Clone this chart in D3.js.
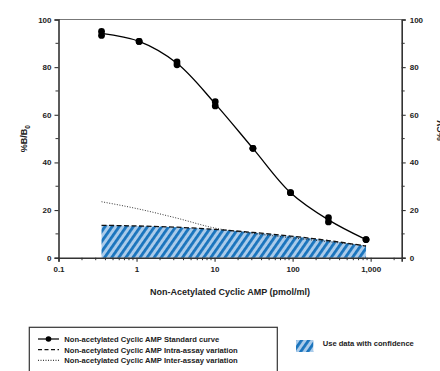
<!DOCTYPE html>
<html><head><meta charset="utf-8">
<script src="https://cdn.jsdelivr.net/npm/d3@7"></script>
<style>
html,body{margin:0;padding:0;background:#fff;}
svg{display:block;font-family:"Liberation Sans",Arial,sans-serif;}
</style></head>
<body>
<svg id="c" width="440" height="371"></svg>
<script>
// ---- data ----
const conc = [0.356, 1.08, 3.3, 10.2, 31, 94, 288, 873];
const rep1 = [95.0, 90.8, 82.2, 65.5, 45.9, 27.3, 16.8, 7.6];
const rep2 = [93.3, 90.8, 81.0, 63.7, 45.9, 27.3, 15.0, 7.6];
const intraCV = [13.6, 13.3, 12.8, 11.9, 10.6, 9.1, 7.2, 4.9];
const interCV = [23.5, 20.4, 16.6, 12.4, 10.2, 8.4, 6.7, 5.0];
const xTickVals = [0.1, 1, 10, 100, 1000];
const xTickLabels = ["0.1", "1", "10", "100", "1,000"];
const yTickVals = [0, 20, 40, 60, 80, 100];
const legendLines = ["Non-acetylated Cyclic AMP Standard curve",
  "Non-acetylated Cyclic AMP Intra-assay variation",
  "Non-acetylated Cyclic AMP Inter-assay variation"];
const legendArea = "Use data with confidence";

const svg = d3.select("#c");
const L = 58.5, R = 401.7, T = 19.5, B = 257.7;
const x = d3.scaleLog().domain([0.1, 2500]).range([L, R]);
const y = d3.scaleLinear().domain([0, 100]).range([B, T]);
const y2 = d3.scaleLinear().domain([0, 100]).range([B, T]);

// pattern
const defs = svg.append("defs");
const pat = defs.append("pattern").attr("id", "hatch").attr("patternUnits", "userSpaceOnUse")
  .attr("width", 5.8).attr("height", 10).attr("patternTransform", "rotate(35)");
pat.append("rect").attr("width", 5.8).attr("height", 10).attr("fill", "#aacbea");
pat.append("rect").attr("width", 2.8).attr("height", 10).attr("fill", "#1a74bd");

const mean = conc.map((c, i) => ({c, v: (rep1[i] + rep2[i]) / 2}));

// hatched confidence area
const area = d3.area().x(d => x(d.c)).y0(y2(0)).y1(d => y2(d.v)).curve(d3.curveMonotoneX);
svg.append("path").datum(conc.map((c, i) => ({c, v: intraCV[i]})))
  .attr("d", area).attr("fill", "url(#hatch)");

// top frame line
svg.append("line").attr("x1", L).attr("x2", R).attr("y1", T).attr("y2", T)
  .attr("stroke", "#777").attr("stroke-width", 1.2);

// axes
const tickFont = g => g.selectAll("text").attr("font-size", 8).attr("font-weight", "bold")
  .attr("fill", "#222").attr("font-family", "Liberation Sans, Arial, sans-serif");

const yAxis = d3.axisLeft(y).tickValues(yTickVals).tickSize(4).tickPadding(3).tickFormat(d3.format("d"));
const gy = svg.append("g").attr("transform", `translate(${L},0)`).call(yAxis);
gy.call(tickFont);
gy.append("g").selectAll("line").data([10, 30, 50, 70, 90]).join("line")
  .attr("x1", -3).attr("x2", 0).attr("y1", d => y(d)).attr("y2", d => y(d)).attr("stroke", "#333");

const yAxisR = d3.axisRight(y2).tickValues(yTickVals).tickSize(4).tickPadding(4).tickFormat(d3.format("d"));
const gy2 = svg.append("g").attr("transform", `translate(${R},0)`).call(yAxisR);
gy2.call(tickFont);
gy2.append("g").selectAll("line").data([10, 30, 50, 70, 90]).join("line")
  .attr("x1", 0).attr("x2", 3).attr("y1", d => y2(d)).attr("y2", d => y2(d)).attr("stroke", "#333");

const xAxis = d3.axisBottom(x).tickValues(xTickVals).tickSize(4).tickPadding(5)
  .tickFormat((d, i) => xTickLabels[i]);
const gx = svg.append("g").attr("transform", `translate(0,${B})`).call(xAxis);
gx.call(tickFont);
const minor = [];
[0.1, 1, 10, 100, 1000].forEach(dec => { for (let k = 2; k <= 9; k++) { const v = dec * k; if (v <= 2500) minor.push(v); } });
gx.append("g").selectAll("line").data(minor).join("line")
  .attr("x1", d => x(d)).attr("x2", d => x(d)).attr("y1", 0).attr("y2", 2.5).attr("stroke", "#333");

[gx, gy, gy2].forEach(g => {
  g.select(".domain").attr("stroke", "#333").attr("stroke-width", 1.6);
  g.selectAll(".tick line").attr("stroke", "#333").attr("stroke-width", 1.1);
});

// lines
const line = d3.line().x(d => x(d.c)).y(d => y(d.v)).curve(d3.curveMonotoneX);
svg.append("path").datum(conc.map((c, i) => ({c, v: interCV[i]})))
  .attr("d", line).attr("fill", "none").attr("stroke", "#333").attr("stroke-width", 1)
  .attr("stroke-dasharray", "1,1.6");
svg.append("path").datum(conc.map((c, i) => ({c, v: intraCV[i]})))
  .attr("d", line).attr("fill", "none").attr("stroke", "#111").attr("stroke-width", 1.3)
  .attr("stroke-dasharray", "5,2.5");
svg.append("path").datum(mean).attr("d", d3.line().x(d => x(d.c)).y(d => y(d.v)).curve(d3.curveCatmullRom))
  .attr("fill", "none").attr("stroke", "#000").attr("stroke-width", 1.3);

const pts = conc.flatMap((c, i) => [{c, v: rep1[i]}, {c, v: rep2[i]}]);
svg.append("g").selectAll("circle").data(pts).join("circle")
  .attr("cx", d => x(d.c)).attr("cy", d => y(d.v)).attr("r", 3.4).attr("fill", "#000");

// axis titles
svg.append("text").attr("x", (L + R) / 2 + 0).attr("y", 295).attr("text-anchor", "middle")
  .attr("font-size", 9).attr("font-weight", "bold").attr("fill", "#222")
  .text("Non-Acetylated Cyclic AMP (pmol/ml)");
const yt = svg.append("text").attr("transform", `translate(27,${(T + B) / 2}) rotate(-90)`)
  .attr("text-anchor", "middle").attr("font-size", 9).attr("font-weight", "bold").attr("fill", "#222");
yt.append("tspan").text("%B/B");
yt.append("tspan").attr("font-size", 6.5).attr("dy", 2.5).text("0");
svg.append("text").attr("transform", `translate(443,${(T + B) / 2 - 8}) rotate(-90)`)
  .attr("text-anchor", "middle").attr("font-size", 9).attr("font-weight", "bold").attr("fill", "#222")
  .text("%CV");

// legend
const lg = svg.append("g");
lg.append("rect").attr("x", 29.3).attr("y", 327.3).attr("width", 248).attr("height", 60)
  .attr("fill", "none").attr("stroke", "#333").attr("stroke-width", 1.2);
const rowsY = [339, 349.7, 360.3];
const styles = [null, "4,2.5", "1,1.5"];
legendLines.forEach((t, i) => {
  lg.append("line").attr("x1", 38).attr("x2", 59).attr("y1", rowsY[i]).attr("y2", rowsY[i])
    .attr("stroke", "#111").attr("stroke-width", i === 2 ? 1 : 1.3)
    .attr("stroke-dasharray", styles[i]);
  if (i === 0) lg.append("circle").attr("cx", 48.5).attr("cy", rowsY[i]).attr("r", 2.8).attr("fill", "#000");
  lg.append("text").attr("x", 64.3).attr("y", rowsY[i] + 2.8).attr("font-size", 7.6)
    .attr("font-weight", "bold").attr("fill", "#222").text(t);
});
lg.append("rect").attr("x", 296).attr("y", 340).attr("width", 17.3).attr("height", 12).attr("fill", "url(#hatch)");
lg.append("text").attr("x", 322.7).attr("y", 346).attr("font-size", 7.6).attr("font-weight", "bold")
  .attr("fill", "#222").text(legendArea);
</script>
</body></html>
